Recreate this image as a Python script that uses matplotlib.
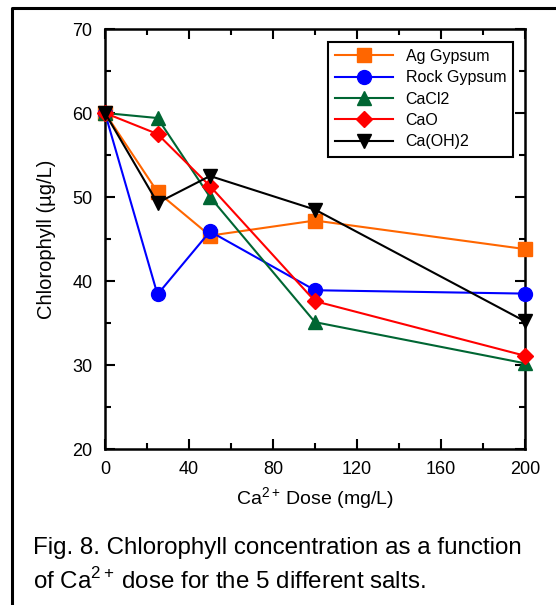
import matplotlib
matplotlib.use("Agg")
import matplotlib.pyplot as plt
from matplotlib.lines import Line2D
from matplotlib.ticker import MultipleLocator

plt.rcParams['font.family'] = ['Liberation Sans', 'DejaVu Sans']
plt.rcParams['mathtext.fontset'] = 'custom'
plt.rcParams['mathtext.rm'] = 'Liberation Sans'

dose = [0, 25, 50, 100, 200]
ag_gypsum = [60.0, 50.6, 45.4, 47.2, 43.8]
rock_gypsum = [60.0, 38.4, 45.9, 38.9, 38.5]
cacl2 = [60.0, 59.4, 50.0, 35.1, 30.2]
cao = [60.0, 57.5, 51.3, 37.6, 31.1]
caoh2 = [60.0, 49.3, 52.5, 48.5, 35.2]

names = ['Ag Gypsum', 'Rock Gypsum', 'CaCl2', 'CaO', 'Ca(OH)2']
series = [ag_gypsum, rock_gypsum, cacl2, cao, caoh2]
colors = ['#FF6600', '#0000FF', '#006633', '#FF0000', '#000000']
markers = ['s', 'o', '^', 'D', 'v']
msizes = [10, 10, 10, 8, 10]

fig = plt.figure(figsize=(5.56, 6.05), dpi=100)
ax = fig.add_axes([105 / 556, 1 - 449 / 605, 420 / 556, 420 / 605])

for y, name, c, m, ms in zip(series, names, colors, markers, msizes):
    ax.plot(dose, y, color=c, marker=m, markersize=ms, linewidth=1.5,
            label=name, clip_on=False, zorder=3)

ax.set_xlim(0, 200)
ax.set_ylim(20, 70)
ax.xaxis.set_major_locator(MultipleLocator(40))
ax.xaxis.set_minor_locator(MultipleLocator(20))
ax.yaxis.set_major_locator(MultipleLocator(10))
ax.yaxis.set_minor_locator(MultipleLocator(5))
ax.tick_params(which='both', direction='in', top=True, right=True,
               width=1.5, labelsize=13)
ax.tick_params(which='major', length=7, pad=9)
ax.tick_params(which='minor', length=4)
for s in ax.spines.values():
    s.set_linewidth(1.8)

ax.set_xlabel('Ca$^{2+}\\,$Dose (mg/L)', fontsize=14, labelpad=5)
ax.set_ylabel('Chlorophyll (\u00b5g/L)', fontsize=14.5, labelpad=12)

leg = ax.legend(loc='upper right', bbox_to_anchor=(0.972, 0.97), fontsize=11.5,
                fancybox=False, framealpha=1, edgecolor='black',
                handlelength=3.6, borderpad=0.45, labelspacing=0.4,
                borderaxespad=0)
leg.get_frame().set_linewidth(1.5)

fig.text(33 / 556, 1 - 548 / 605, 'Fig. 8. Chlorophyll concentration as a function',
         fontsize=17.4, va='center', ha='left')
fig.text(33 / 556, 1 - 581 / 605, 'of Ca$^{2+}\\,$dose for the 5 different salts.',
         fontsize=17.4, va='center', ha='left')

# outer frame (top and left edges)
fig.add_artist(Line2D([12 / 556, 12 / 556, 1], [0, 1 - 8 / 605, 1 - 8 / 605],
                      transform=fig.transFigure, color='black', linewidth=2.2))

fig.savefig('out.png', dpi=100)
